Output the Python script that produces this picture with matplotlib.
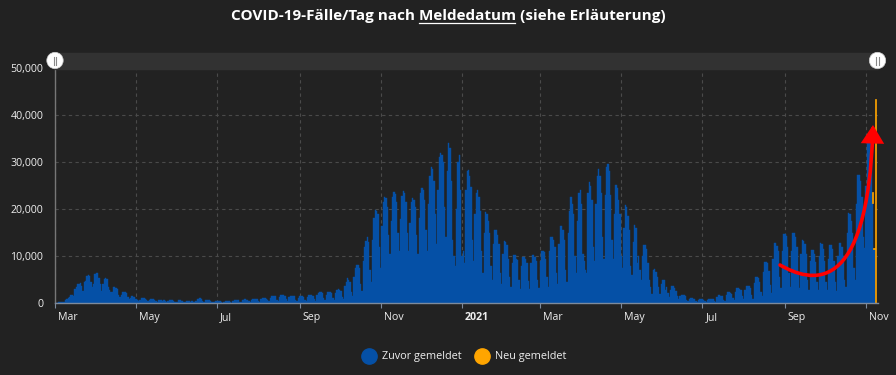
import matplotlib
matplotlib.use('Agg')
import matplotlib.pyplot as plt
import matplotlib.dates as mdates
import numpy as np
import pandas as pd
from matplotlib.patches import FancyArrowPatch, Rectangle, Circle
from matplotlib.path import Path
from matplotlib.lines import Line2D
from matplotlib.ticker import FuncFormatter
import matplotlib.transforms as mtrans

# ---------------- data (cases per day, thousands) ----------------
start_date = '2020-03-01'
zuvor_k = [
    0.05,
    0.10, 0.15, 0.20, 0.25, 0.30, 0.30, 0.25,   # 2020-03-02
    0.8, 1.0, 1.2, 1.4, 1.7, 1.8, 1.6,
    3.0, 3.4, 4.0, 4.2, 4.3, 3.6, 2.6,
    4.6, 4.8, 5.8, 6.0, 5.8, 4.5, 3.4,
    4.2, 6.3, 6.5, 6.4, 5.3, 4.2, 2.7,
    4.0, 5.2, 5.4, 5.2, 3.5, 2.8, 2.3,
    2.4, 3.5, 3.4, 3.3, 3.0, 1.8, 1.3,
    1.8, 2.5, 2.5, 2.4, 2.2, 1.3, 0.9,
    1.2, 1.5, 1.4, 1.4, 0.9, 0.7, 0.5,
    0.8, 1.2, 1.2, 1.1, 1.0, 0.6, 0.4,
    0.7, 0.9, 0.9, 0.85, 0.75, 0.45, 0.3,
    0.6, 0.75, 0.7, 0.5, 0.6, 0.4, 0.25,
    0.5, 0.7, 0.65, 0.6, 0.55, 0.35, 0.2,
    0.3, 0.6, 0.6, 0.55, 0.5, 0.3, 0.2,
    0.4, 0.55, 0.55, 0.3, 0.45, 0.3, 0.2,
    0.5, 0.9, 1.0, 1.1, 0.9, 0.5, 0.35,
    0.6, 0.6, 0.65, 0.6, 0.55, 0.3, 0.2,
    0.35, 0.45, 0.45, 0.45, 0.4, 0.25, 0.15,
    0.35, 0.45, 0.45, 0.45, 0.4, 0.25, 0.15,
    0.5, 0.65, 0.7, 0.65, 0.6, 0.3, 0.2,
    0.6, 0.8, 0.85, 0.8, 0.75, 0.4, 0.25,
    0.7, 0.9, 0.95, 0.9, 0.85, 0.45, 0.3,
    0.9, 1.05, 1.1, 1.1, 1.0, 0.6, 0.4,
    1.2, 1.5, 1.6, 1.6, 1.5, 0.8, 0.5,
    1.4, 1.7, 1.8, 1.75, 1.6, 0.9, 0.55,
    1.3, 1.6, 1.65, 1.6, 1.5, 0.8, 0.5,
    1.2, 1.5, 1.5, 1.45, 1.4, 0.75, 0.45,
    1.3, 1.7, 1.75, 1.7, 1.6, 0.85, 0.55,
    1.7, 2.2, 2.3, 2.3, 2.1, 1.1, 0.7,
    1.8, 2.3, 2.4, 2.4, 2.2, 1.2, 0.8,
    2.1, 2.8, 3.0, 2.9, 2.7, 1.4, 0.9,
    3.6, 4.6, 5.3, 5.0, 4.6, 2.4, 1.6,
    5.5, 7.4, 8.1, 8.2, 7.5, 4.0, 2.6,
    9.0, 12.0, 13.2, 14.1, 13.0, 7.0, 4.5,
    13.5, 18.0, 19.8, 19.5, 19.0, 12.0, 7.5,
    16.5, 21.5, 22.5, 22.3, 20.5, 14.5, 10.5,
    17.5, 22.5, 23.7, 23.3, 21.5, 15.0, 11.0,
    17.8, 22.8, 23.9, 23.5, 21.5, 15.0, 11.0,
    17.0, 21.5, 22.3, 22.0, 20.5, 14.5, 10.5,
    18.0, 23.5, 24.4, 24.0, 22.0, 15.5, 11.0,
    21.0, 27.0, 29.0, 28.5, 26.0, 19.0, 12.5,
    24.0, 31.0, 31.8, 31.5, 30.0, 20.5, 14.0,
    28.0, 34.0, 33.0, 26.0, 13.5, 10.0, 8.0,
    20.0, 30.0, 31.5, 24.0, 10.0, 11.0, 8.5,
    24.0, 28.0, 28.3, 27.0, 24.7, 13.5, 9.0,     # 2021-01-04
    19.0, 23.5, 24.0, 22.5, 19.5, 11.0, 6.5,
    15.0, 19.4, 19.0, 17.5, 15.0, 8.0, 5.0,
    12.5, 15.5, 15.5, 14.5, 12.5, 6.5, 4.0,
    10.5, 13.2, 13.0, 12.3, 9.5, 5.5, 3.5,
    8.5, 10.2, 10.2, 9.5, 9.2, 5.0, 3.0,
    8.0, 9.9, 9.9, 9.5, 8.5, 4.8, 3.0,
    8.5, 10.2, 10.2, 9.8, 9.0, 5.0, 3.2,
    9.0, 11.2, 11.2, 10.8, 9.5, 5.5, 3.5,
    11.0, 14.1, 14.0, 13.5, 12.0, 6.5, 4.2,
    12.5, 16.3, 16.3, 15.5, 13.5, 7.0, 4.5,
    15.0, 19.5, 22.6, 21.0, 19.0, 10.0, 6.5,
    17.5, 23.5, 24.0, 21.0, 10.5, 9.0, 7.0,
    6.5, 23.5, 25.8, 25.0, 22.0, 12.0, 9.0,
    21.0, 27.0, 28.6, 27.0, 23.5, 14.0, 9.5,
    23.0, 29.0, 29.5, 28.0, 23.0, 13.5, 9.5,
    19.0, 25.1, 24.5, 22.0, 19.0, 10.0, 7.5,
    16.0, 20.9, 20.5, 18.5, 15.5, 8.0, 6.0,
    13.0, 16.6, 16.0, 8.5, 10.0, 7.0, 5.0,
    10.0, 12.4, 12.3, 11.5, 8.5, 5.0, 3.5,
    2.0, 7.0, 7.2, 6.7, 5.5, 3.5, 2.0,
    4.0, 5.0, 5.0, 2.8, 3.5, 2.2, 1.3,
    2.8, 3.7, 3.6, 3.3, 2.7, 1.5, 0.9,
    1.5, 1.8, 1.8, 1.7, 1.5, 0.8, 0.5,
    0.9, 1.1, 1.1, 1.0, 0.9, 0.5, 0.3,
    0.7, 0.85, 0.85, 0.85, 0.75, 0.4, 0.25,
    0.8, 1.0, 1.0, 1.0, 0.9, 0.5, 0.3,
    1.3, 1.7, 1.7, 1.6, 1.5, 0.8, 0.5,
    1.8, 2.3, 2.3, 2.2, 2.0, 1.1, 0.7,
    2.5, 3.2, 3.2, 3.0, 2.8, 1.5, 0.9,
    2.9, 3.7, 3.7, 3.6, 3.3, 1.7, 1.0,
    4.3, 5.6, 5.6, 5.4, 4.6, 2.5, 1.5,
    6.7, 8.8, 8.8, 8.5, 6.8, 3.8, 2.2,
    9.5, 12.8, 12.8, 12.2, 11.0, 5.5, 3.3,
    11.0, 14.8, 14.8, 14.2, 12.0, 6.5, 3.5,
    11.2, 15.0, 15.0, 14.0, 12.0, 6.0, 3.2,
    10.5, 13.4, 13.2, 12.5, 10.5, 5.0, 2.8,
    9.0, 11.3, 11.3, 10.5, 8.8, 4.5, 2.8,
    10.0, 12.7, 12.5, 11.5, 9.0, 4.5, 2.8,
    9.5, 12.4, 12.4, 11.5, 9.0, 4.5, 2.7,
    10.0, 12.7, 12.7, 12.0, 10.0, 5.0, 3.5,
    15.0, 19.1, 19.0, 17.5, 15.0, 7.5, 5.0,
    21.0, 27.2, 27.2, 26.0, 22.6, 14.0, 11.7,
    25.0, 35.0, 35.5, 35.4, 33.0, 21.2, 11.5,   # 2021-11-01
    0.0,
]
neu_dates = ['2021-11-06', '2021-11-07', '2021-11-08']
neu_k = [2.5, 0.3, 43.3]

title = 'COVID-19-Fälle/Tag nach Meldedatum (siehe Erläuterung)'
underlined_word = 'Meldedatum'
legend_labels = ['Zuvor gemeldet', 'Neu gemeldet']
tick_dates = ['2020-03-01', '2020-05-01', '2020-07-01', '2020-09-01', '2020-11-01',
              '2021-01-01', '2021-03-01', '2021-05-01', '2021-07-01', '2021-09-01',
              '2021-11-01']
tick_labels = ['Mar', 'May', 'Jul', 'Sep', 'Nov', '2021', 'Mar', 'May', 'Jul', 'Sep', 'Nov']
y_ticks = [0, 10000, 20000, 30000, 40000, 50000]

# ---------------- style ----------------
BG = '#222222'
BLUE = '#0550a6'
ORANGE = '#ffa500'
TXT = '#eeeeee'
FONT = ['Open Sans', 'DejaVu Sans']
plt.rcParams['font.family'] = FONT

W, H = 896, 375
fig = plt.figure(figsize=(W / 100, H / 100), dpi=100, facecolor=BG)

def rect(x0, y0, x1, y1):
    return [x0 / W, 1 - y1 / H, (x1 - x0) / W, (y1 - y0) / H]

ax = fig.add_axes(rect(55, 67.7, 878, 303.3))
ax.set_facecolor(BG)

dates = pd.date_range(start_date, periods=len(zuvor_k), freq='D')
zuvor = np.array(zuvor_k) * 1000.0
ax.bar(dates, zuvor, width=1.0, color=BLUE, edgecolor=BLUE, linewidth=0.3,
       align='center', zorder=2)
nd = pd.to_datetime(neu_dates)
base = pd.Series(zuvor, index=dates).loc[nd].values
ax.bar(nd, np.array(neu_k) * 1000.0, bottom=base, width=1.0, color=ORANGE,
       edgecolor=ORANGE, linewidth=0.5, align='center', zorder=3)

x0 = mdates.date2num(pd.Timestamp(start_date))
ax.set_xlim(x0, x0 + 619)
ax.set_ylim(0, 50000)

ax.set_yticks(y_ticks)
ax.yaxis.set_major_formatter(FuncFormatter(lambda v, p: f'{int(v):,}'))
ax.tick_params(axis='y', length=0, pad=8.5, labelsize=7.7, labelcolor=TXT)

ax.set_xticks(mdates.date2num(pd.to_datetime(tick_dates)))
ax.set_xticklabels(tick_labels)
ax.tick_params(axis='x', length=3.6, width=0.8, color='#7d8a9c', pad=2.8,
               labelsize=7.7, labelcolor=TXT)
offset = mtrans.ScaledTranslation(3 / 100, 0, fig.dpi_scale_trans)
for i, lab in enumerate(ax.get_xticklabels()):
    lab.set_ha('left')
    lab.set_transform(lab.get_transform() + offset)
    if tick_labels[i] == '2021':
        lab.set_fontweight('bold')

ax.grid(True, color='#4a4a4a', linestyle=(0, (3, 3)), linewidth=0.8)
ax.set_axisbelow(True)
for s in ['top', 'right']:
    ax.spines[s].set_visible(False)
ax.spines['left'].set_color('#777777')
ax.spines['left'].set_linewidth(1.0)
ax.spines['bottom'].set_color('#7d8a9c')
ax.spines['bottom'].set_linewidth(1.0)
ax.spines['bottom'].set_zorder(4)

# ---------------- overlay in pixel coordinates ----------------
ov = fig.add_axes([0, 0, 1, 1], zorder=10)
ov.set_xlim(0, W)
ov.set_ylim(H, 0)
ov.axis('off')
ov.patch.set_alpha(0)

# navigator band and handles
ov.add_patch(Rectangle((55, 52.5), 878 - 55, 16, color='#323232', zorder=1))
for hx in (55, 877.5):
    ov.add_patch(Circle((hx, 60.5), 8.2, facecolor='white', edgecolor='#cccccc',
                        linewidth=0.5, zorder=3))
    for dx in (-1.3, 1.3):
        ov.plot([hx + dx, hx + dx], [56.5, 64.5], color='#888888', lw=0.8, zorder=4)

# title with underline
t = fig.text(0.5, 1 - 16 / H, title, ha='center', va='center', color='white',
             fontsize=10, fontweight='bold')
fig.canvas.draw()
r = fig.canvas.get_renderer()
w = t.get_window_extent(r).width
t.set_fontsize(10 * 433 / w)
fig.canvas.draw()
bb = t.get_window_extent(r)
idx = title.index(underlined_word) + len(underlined_word)
tmp = fig.text(0, 0, title[:idx], fontsize=t.get_fontsize(), fontweight='bold')
tmp2 = fig.text(0, 0, underlined_word, fontsize=t.get_fontsize(), fontweight='bold')
w_pre = tmp.get_window_extent(r).width
w_word = tmp2.get_window_extent(r).width
tmp.remove(); tmp2.remove()
ux1 = bb.x0 + w_pre
ux0 = ux1 - w_word
ov.plot([ux0 + 0.5, ux1 - 0.5], [22.7, 22.7], color='white', lw=0.9)

# legend
handles = [Line2D([], [], marker='o', ls='', ms=11, color=BLUE),
           Line2D([], [], marker='o', ls='', ms=11, color=ORANGE)]
fig.legend(handles, legend_labels, loc='center', bbox_to_anchor=(465 / W, 1 - 357 / H),
           ncol=2, frameon=False, handlelength=1.0, handletextpad=0.7,
           columnspacing=1.45, fontsize=7.8, labelcolor=TXT)

# red annotation arrow (hand-drawn style)
verts = [(780, 265), (810, 282), (868, 300), (873, 125)]
path = Path(verts, [Path.MOVETO, Path.CURVE4, Path.CURVE4, Path.CURVE4])
arrow = FancyArrowPatch(path=path, arrowstyle='-|>,head_length=0.6,head_width=0.38',
                        mutation_scale=16, color='#ff0000', linewidth=2.6,
                        zorder=6, joinstyle='miter')
ov.add_patch(arrow)

fig.savefig('out.png', dpi=100, facecolor=BG)
